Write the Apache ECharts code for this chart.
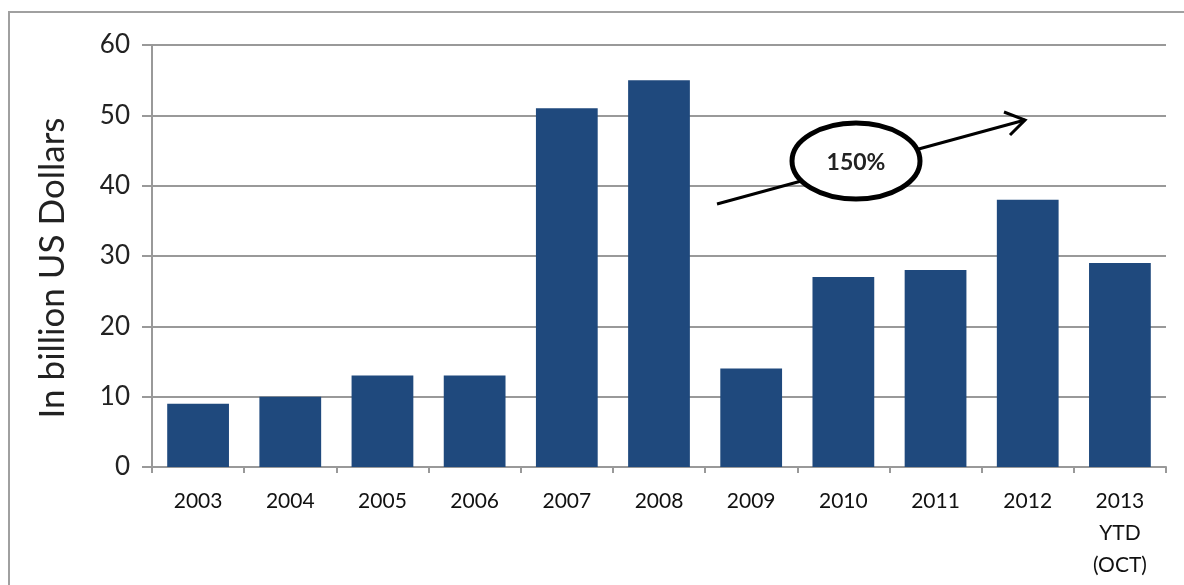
<!DOCTYPE html>
<html>
<head>
<meta charset="utf-8">
<script src="https://cdn.jsdelivr.net/npm/echarts@6/dist/echarts.min.js"></script>
<style>
  html, body { margin: 0; padding: 0; background: #fff; overflow: hidden; width: 1184px; height: 585px; }
  #frame { position: absolute; left: 8px; top: 11px; width: 1200px; height: 600px; border: 2px solid #a0a0a0; box-sizing: border-box; }
  #chart { position: absolute; left: 0; top: 0; width: 1184px; height: 585px; }
</style>
</head>
<body>
<div id="frame"></div>
<div id="chart"></div>
<script>
// Fund capital raised by year of final close (billion US dollars)
const years = ['2003', '2004', '2005', '2006', '2007', '2008', '2009', '2010', '2011', '2012', '2013\nYTD\n(OCT)'];
const capitalRaised = [9, 10, 13, 13, 51, 55, 14, 27, 28, 38, 29];
const yTicks = [0, 10, 20, 30, 40, 50, 60];
const growthLabel = '150%';

const FONT = 'Lato, "Open Sans", sans-serif';
const chart = echarts.init(document.getElementById('chart'));

chart.setOption({
  animation: false,
  grid: { left: 152, right: 18, top: 45, bottom: 118, outerBoundsMode: 'none', containLabel: false },
  xAxis: {
    type: 'category',
    data: years,
    name: 'Year of Final Close',
    nameLocation: 'middle',
    nameGap: 94,
    nameTextStyle: { fontFamily: FONT, fontSize: 29, color: '#222' },
    axisLine: { lineStyle: { color: '#999', width: 2 } },
    axisTick: { show: true, length: 6, lineStyle: { color: '#999', width: 2 } },
    axisLabel: { fontFamily: FONT, fontSize: 21, color: '#111', margin: 28, lineHeight: 32, verticalAlign: 'top', padding: [-10, 0, 0, 0] }
  },
  yAxis: {
    type: 'value',
    min: yTicks[0],
    max: yTicks[yTicks.length - 1],
    interval: 10,
    name: 'In billion US Dollars',
    nameLocation: 'middle',
    nameGap: 82,
    nameRotate: 90,
    nameTextStyle: { fontFamily: FONT, fontSize: 35, color: '#222', padding: [0, 24, 0, 0] },
    axisLine: { show: true, lineStyle: { color: '#999', width: 2 } },
    axisTick: { show: true, inside: false, length: 10, lineStyle: { color: '#999', width: 2 } },
    axisLabel: { fontFamily: FONT, fontSize: 26, color: '#222', margin: 22 },
    splitLine: { lineStyle: { color: '#999', width: 2 } }
  },
  series: [{
    type: 'bar',
    data: capitalRaised,
    barCategoryGap: '33%',
    itemStyle: { color: '#1F497D' }
  }],
  graphic: [
    {
      type: 'polyline',
      shape: { points: [[717, 204], [1025, 120]] },
      style: { stroke: '#000', lineWidth: 3, fill: null },
      z: 10
    },
    {
      type: 'polyline',
      shape: { points: [[1004, 112], [1025, 120], [1010, 135]] },
      style: { stroke: '#000', lineWidth: 3, fill: null },
      z: 10
    },
    {
      type: 'ellipse',
      shape: { cx: 856, cy: 161, rx: 64, ry: 38 },
      style: { fill: '#fff', stroke: '#000', lineWidth: 5 },
      z: 11
    },
    {
      type: 'text',
      x: 856, y: 163,
      style: { text: growthLabel, fontFamily: FONT, fontSize: 23, fontWeight: 'bold', fill: '#222', align: 'center', verticalAlign: 'middle' },
      z: 12
    }
  ]
});
</script>
</body>
</html>
